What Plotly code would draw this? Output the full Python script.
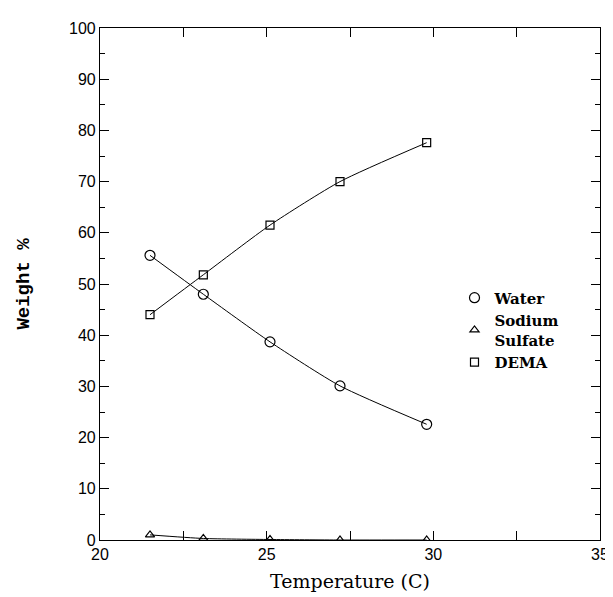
import plotly.graph_objects as go

temperature = [21.5, 23.1, 25.1, 27.2, 29.8]
water = [55.6, 48.0, 38.7, 30.1, 22.6]
sodium_sulfate = [1.0, 0.3, 0.1, 0.0, 0.0]
dema = [44.0, 51.8, 61.5, 70.0, 77.6]

series = [
    ("Water", water, "circle-open", 10),
    ("Sodium<br>Sulfate", sodium_sulfate, "triangle-up-open", 8),
    ("DEMA", dema, "square-open", 8),
]

fig = go.Figure()
for name, vals, sym, size in series:
    fig.add_trace(go.Scatter(
        x=temperature, y=vals, mode="lines",
        line=dict(color="black", width=1, shape="spline", smoothing=0.6),
        showlegend=False, hoverinfo="skip"))
for name, vals, sym, size in series:
    fig.add_trace(go.Scatter(
        x=temperature, y=vals, mode="markers", name=name,
        marker=dict(symbol=sym, size=size, color="black", line=dict(width=1.2, color="black")),
    ))

axis_common = dict(
    showline=True, linecolor="black", linewidth=1.2, mirror="ticks",
    ticks="inside", ticklen=9, tickcolor="black", tickwidth=1,
    showgrid=False, zeroline=False,
    tickfont=dict(family="Liberation Sans, Arial", size=16, color="black"),
)

fig.update_xaxes(
    range=[20, 35], tick0=20, dtick=5,
    minor=dict(ticks="inside", ticklen=9, dtick=2.5, tickcolor="black"),
    title=dict(text="Temperature (C)", font=dict(family="DejaVu Serif", size=19, color="black"), standoff=12),
    **axis_common)
fig.update_yaxes(
    range=[0, 100], tick0=0, dtick=10,
    minor=dict(ticks="inside", ticklen=5, dtick=5, tickcolor="black"),
    title=dict(text="<b>Weight %</b>", font=dict(family="Liberation Mono", size=19, color="black"), standoff=34),
    **axis_common)

fig.update_layout(
    width=613, height=597,
    margin=dict(l=92, r=13, t=16, b=65),
    plot_bgcolor="white", paper_bgcolor="white",
    legend=dict(
        x=0.709, y=0.505, xanchor="left", yanchor="top",
        bgcolor="rgba(0,0,0,0)", borderwidth=0,
        font=dict(family="DejaVu Serif", size=15, color="black", weight="bold"),
        tracegroupgap=0, itemwidth=30,
    ),
)

fig.write_html("out.html")
